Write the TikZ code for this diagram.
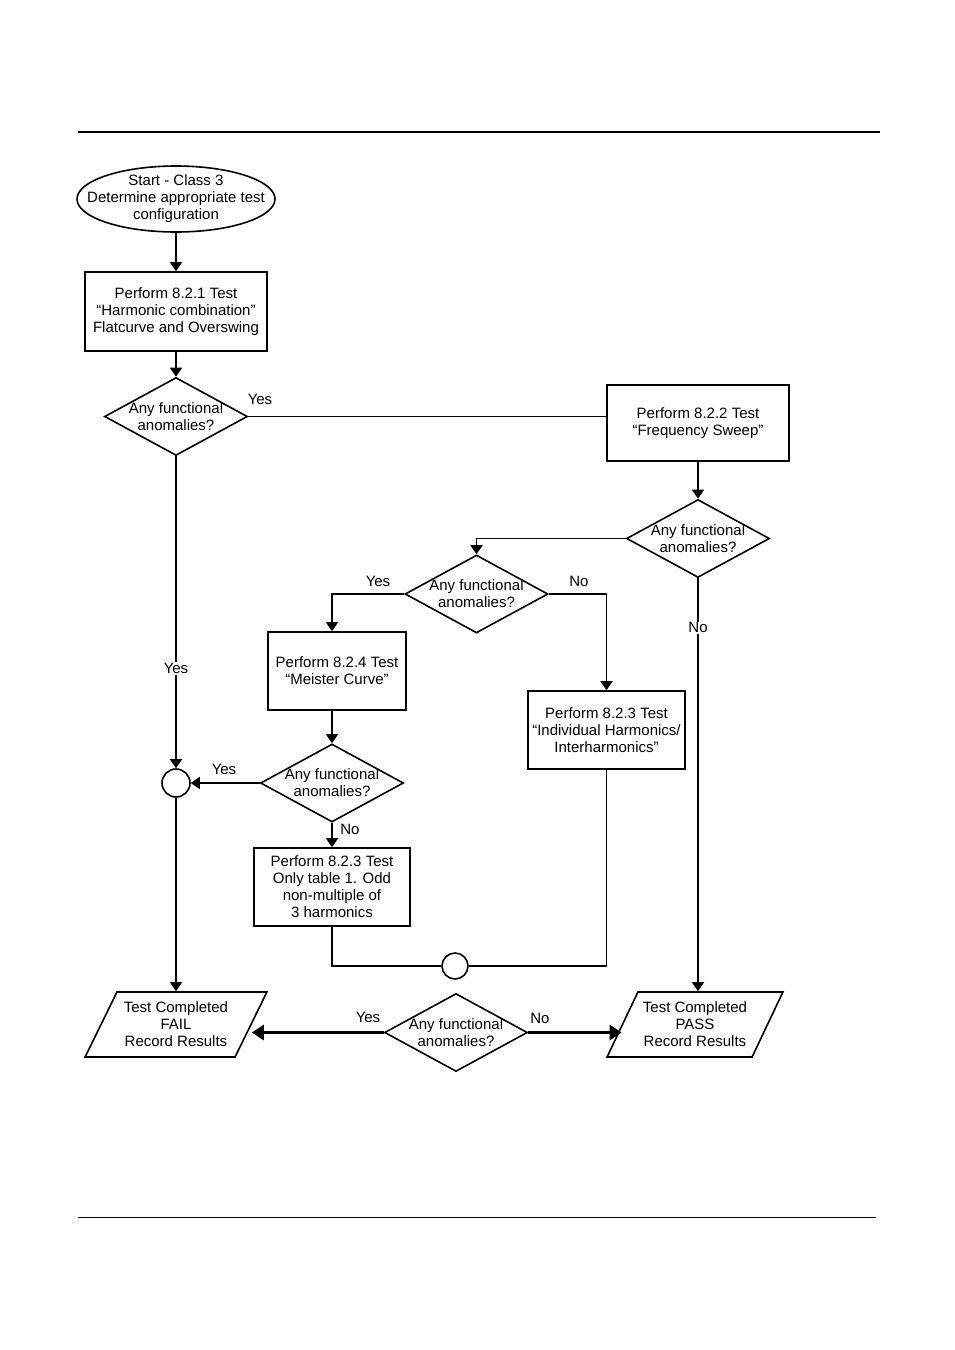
\documentclass[tikz,border=0pt]{standalone}
\usepackage{fontspec}
\setmainfont{Liberation Sans}
\usetikzlibrary{shapes.geometric,arrows.meta}
\begin{document}
\begin{tikzpicture}[x=1pt,y=-1pt,line width=1.6pt,
  font=\fontsize{15}{17}\selectfont,
  box/.style={draw,rectangle,align=center,inner sep=1pt},
  dia/.style={draw,diamond,align=center,inner sep=-4pt,shape aspect=1.83,minimum width=143pt,minimum height=78pt},
  para/.style={draw,trapezium,trapezium left angle=58,trapezium right angle=122,trapezium stretches=true,align=center,inner sep=0pt,minimum height=65pt},
  circ/.style={draw,circle,inner sep=0pt},
  startel/.style={draw,ellipse,align=center,inner xsep=-34pt,inner ysep=-6pt,minimum width=198pt,minimum height=66pt},
  lbl/.style={inner sep=1pt},
  arr/.style={-{Triangle[width=12pt,length=9pt]}},
  bigarr/.style={line width=3.5pt,-{Triangle[width=15pt,length=12pt]}}]
\useasboundingbox (0,0) rectangle (954,1350);
\draw[line width=2pt] (78,132) -- (880,132);
\draw[line width=1pt] (78,1217) -- (876,1217);

\node[startel] (start) at (176,199) {Start - Class 3\\Determine appropriate test\\configuration};
\node[box,minimum width=182pt,minimum height=79pt] (b1) at (176,311.5) {Perform 8.2.1 Test\\``Harmonic combination''\\Flatcurve and Overswing};
\node[dia] (d1) at (176,416.5) {Any functional\\anomalies?};
\node[box,minimum width=182pt,minimum height=76pt] (b2) at (698,423) {Perform 8.2.2 Test\\``Frequency Sweep''};
\node[dia] (d2) at (698,538.5) {Any functional\\anomalies?};
\node[dia] (d3) at (476.5,594) {Any functional\\anomalies?};
\node[box,minimum width=138pt,minimum height=78pt] (b3) at (337,671) {Perform 8.2.4 Test\\``Meister Curve''};
\node[box,minimum width=157pt,minimum height=78pt] (b4) at (606.5,730) {Perform 8.2.3 Test\\``Individual Harmonics/\\Interharmonics''};
\node[dia] (d4) at (332,783) {Any functional\\anomalies?};
\node[circ,minimum size=28pt] (c1) at (176,783) {};
\node[box,minimum width=156pt,minimum height=78pt] (b5) at (332,887) {Perform 8.2.3 Test\\Only table 1. Odd\\non-multiple of\\3 harmonics};
\node[circ,minimum size=26pt] (c2) at (455,966) {};
\node[para,minimum width=182pt] (fail) at (176,1024.5) {Test Completed\\FAIL\\Record Results};
\node[para,minimum width=176pt] (pass) at (695,1024.5) {Test Completed\\PASS\\Record Results};
\node[dia] (d5) at (456,1032.5) {Any functional\\anomalies?};

\draw[arr] (start) -- (b1);
\draw[arr] (b1) -- (d1);
\draw (d1.east) -- (d1.east -| b2.west);
\node[lbl] (ly1) at (260,399) {Yes};
\draw[arr] (b2) -- (d2);
\draw[arr] (d2.west) -| (d3.north);
\draw[arr] (d3.west) -| (b3.north -| d4.north);
\node[lbl] (ly2) at (378,581) {Yes};
\draw[arr] (d3.east) -| (b4.north);
\node[lbl] (ln1) at (579,581) {No};
\draw[arr] (b3.south -| d4.north) -- (d4.north);
\draw[arr] (d4.west) -- (c1.east);
\node[lbl] (ly3) at (224,769) {Yes};
\draw[arr] (d1.south) -- node[lbl,fill=white,pos=0.68] (ly4) {Yes} (c1.north);
\draw[arr] (c1.south) -- (fail.north);
\draw[arr] (d4.south) -- (b5.north);
\node[lbl] (ln2) at (350,829) {No};
\draw (b5.south) |- (c2.west);
\draw (b4.south) |- (c2.east);
\draw[arr] (d2.south) -- node[lbl,fill=white,pos=0.12] (ln3) {No} (d2.south |- pass.north);
\draw[bigarr] (d5.west) -- (d5.west -| fail.east);
\node[lbl] (ly5) at (368,1017) {Yes};
\draw[bigarr] (d5.east) -- (d5.east -| pass.west);
\node[lbl] (ln4) at (540,1018) {No};
\end{tikzpicture}
\end{document}
